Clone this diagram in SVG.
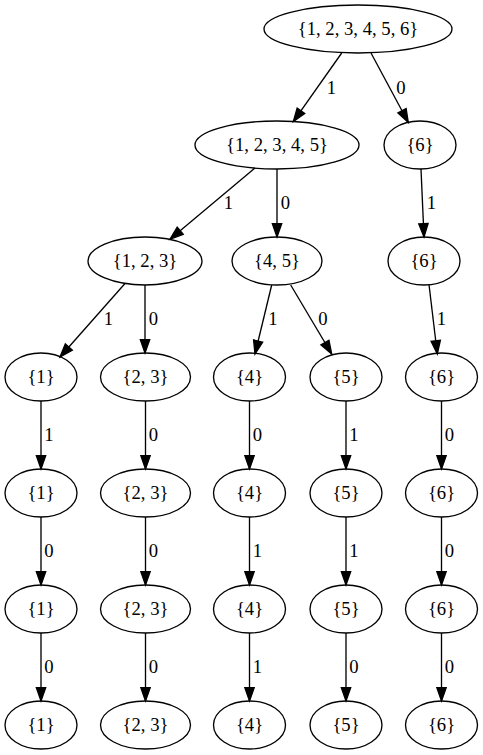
<svg xmlns="http://www.w3.org/2000/svg" width="483" height="755" viewBox="0 0 483 755">
<style>
.n ellipse{fill:none;stroke:#000;stroke-width:1.33}
text{font-family:"Liberation Serif","Times New Roman",serif;font-size:18.67px;fill:#000;text-anchor:middle}
.e line{stroke:#000;stroke-width:1.33;marker-end:url(#ah)}
</style>
<defs>
<marker id="ah" markerUnits="userSpaceOnUse" markerWidth="16" markerHeight="12" refX="13.3" refY="4.67" orient="auto" overflow="visible">
<path d="M0,0 L13.3,4.67 L0,9.33 Z" fill="#000" stroke="#000" stroke-width="1.33"/>
</marker>
</defs>
<rect width="483" height="755" fill="#fff"/>
<g class="e" id="edges">
<line x1="341.7" y1="53" x2="293.3" y2="121.7"/>
<line x1="371" y1="53" x2="408.3" y2="122.5"/>
<line x1="255" y1="168" x2="170" y2="239.3"/>
<line x1="277" y1="169" x2="277" y2="237"/>
<line x1="421" y1="169" x2="424" y2="237"/>
<line x1="125" y1="283.5" x2="60" y2="357"/>
<line x1="145" y1="285" x2="145" y2="353"/>
<line x1="271.7" y1="285" x2="255" y2="354"/>
<line x1="290.7" y1="285" x2="331.7" y2="354"/>
<line x1="429" y1="284.5" x2="437.3" y2="354"/>
<line x1="41" y1="401" x2="41" y2="469"/>
<line x1="145.5" y1="401" x2="145.5" y2="469"/>
<line x1="249.5" y1="401" x2="249.5" y2="469"/>
<line x1="346" y1="401" x2="346" y2="469"/>
<line x1="441.5" y1="401" x2="441.5" y2="469"/>
<line x1="41" y1="517" x2="41" y2="585"/>
<line x1="145.5" y1="517" x2="145.5" y2="585"/>
<line x1="249.5" y1="517" x2="249.5" y2="585"/>
<line x1="346" y1="517" x2="346" y2="585"/>
<line x1="441.5" y1="517" x2="441.5" y2="585"/>
<line x1="41" y1="633" x2="41" y2="701"/>
<line x1="145.5" y1="633" x2="145.5" y2="701"/>
<line x1="249.5" y1="633" x2="249.5" y2="701"/>
<line x1="346" y1="633" x2="346" y2="701"/>
<line x1="441.5" y1="633" x2="441.5" y2="701"/>
<text x="331.5" y="94">1</text>
<text x="401" y="94">0</text>
<text x="228.5" y="209">1</text>
<text x="285.5" y="209">0</text>
<text x="431.5" y="209">1</text>
<text x="108.5" y="325">1</text>
<text x="153.5" y="325">0</text>
<text x="273" y="325">1</text>
<text x="323" y="325">0</text>
<text x="441.5" y="325">1</text>
<text x="49" y="441">1</text>
<text x="153.5" y="441">0</text>
<text x="257.5" y="441">0</text>
<text x="354" y="441">1</text>
<text x="449.5" y="441">0</text>
<text x="49" y="557">0</text>
<text x="153.5" y="557">0</text>
<text x="257.5" y="557">1</text>
<text x="354" y="557">1</text>
<text x="449.5" y="557">0</text>
<text x="49" y="673">0</text>
<text x="153.5" y="673">0</text>
<text x="257.5" y="673">1</text>
<text x="354" y="673">0</text>
<text x="449.5" y="673">0</text>
</g>
<g class="n" id="n0"><ellipse cx="358" cy="29" rx="94" ry="24"/><text x="358" y="35">{1, 2, 3, 4, 5, 6}</text></g>
<g class="n" id="n1"><ellipse cx="277" cy="145" rx="82" ry="24"/><text x="277" y="151">{1, 2, 3, 4, 5}</text></g>
<g class="n" id="n2"><ellipse cx="420" cy="145" rx="36" ry="24"/><text x="420" y="151">{6}</text></g>
<g class="n" id="n3"><ellipse cx="145" cy="261" rx="57" ry="24"/><text x="145" y="267">{1, 2, 3}</text></g>
<g class="n" id="n4"><ellipse cx="277" cy="261" rx="45" ry="24"/><text x="277" y="267">{4, 5}</text></g>
<g class="n" id="n5"><ellipse cx="424" cy="261" rx="36" ry="24"/><text x="424" y="267">{6}</text></g>
<g class="n" id="n6"><ellipse cx="41" cy="377" rx="36" ry="24"/><text x="41" y="383">{1}</text></g>
<g class="n" id="n7"><ellipse cx="145.5" cy="377" rx="45" ry="24"/><text x="145.5" y="383">{2, 3}</text></g>
<g class="n" id="n8"><ellipse cx="249.5" cy="377" rx="36" ry="24"/><text x="249.5" y="383">{4}</text></g>
<g class="n" id="n9"><ellipse cx="346" cy="377" rx="36" ry="24"/><text x="346" y="383">{5}</text></g>
<g class="n" id="n10"><ellipse cx="441.5" cy="377" rx="36" ry="24"/><text x="441.5" y="383">{6}</text></g>
<g class="n" id="n11"><ellipse cx="41" cy="493" rx="36" ry="24"/><text x="41" y="499">{1}</text></g>
<g class="n" id="n12"><ellipse cx="145.5" cy="493" rx="45" ry="24"/><text x="145.5" y="499">{2, 3}</text></g>
<g class="n" id="n13"><ellipse cx="249.5" cy="493" rx="36" ry="24"/><text x="249.5" y="499">{4}</text></g>
<g class="n" id="n14"><ellipse cx="346" cy="493" rx="36" ry="24"/><text x="346" y="499">{5}</text></g>
<g class="n" id="n15"><ellipse cx="441.5" cy="493" rx="36" ry="24"/><text x="441.5" y="499">{6}</text></g>
<g class="n" id="n16"><ellipse cx="41" cy="609" rx="36" ry="24"/><text x="41" y="615">{1}</text></g>
<g class="n" id="n17"><ellipse cx="145.5" cy="609" rx="45" ry="24"/><text x="145.5" y="615">{2, 3}</text></g>
<g class="n" id="n18"><ellipse cx="249.5" cy="609" rx="36" ry="24"/><text x="249.5" y="615">{4}</text></g>
<g class="n" id="n19"><ellipse cx="346" cy="609" rx="36" ry="24"/><text x="346" y="615">{5}</text></g>
<g class="n" id="n20"><ellipse cx="441.5" cy="609" rx="36" ry="24"/><text x="441.5" y="615">{6}</text></g>
<g class="n" id="n21"><ellipse cx="41" cy="725" rx="36" ry="24"/><text x="41" y="731">{1}</text></g>
<g class="n" id="n22"><ellipse cx="145.5" cy="725" rx="45" ry="24"/><text x="145.5" y="731">{2, 3}</text></g>
<g class="n" id="n23"><ellipse cx="249.5" cy="725" rx="36" ry="24"/><text x="249.5" y="731">{4}</text></g>
<g class="n" id="n24"><ellipse cx="346" cy="725" rx="36" ry="24"/><text x="346" y="731">{5}</text></g>
<g class="n" id="n25"><ellipse cx="441.5" cy="725" rx="36" ry="24"/><text x="441.5" y="731">{6}</text></g>
</svg>
